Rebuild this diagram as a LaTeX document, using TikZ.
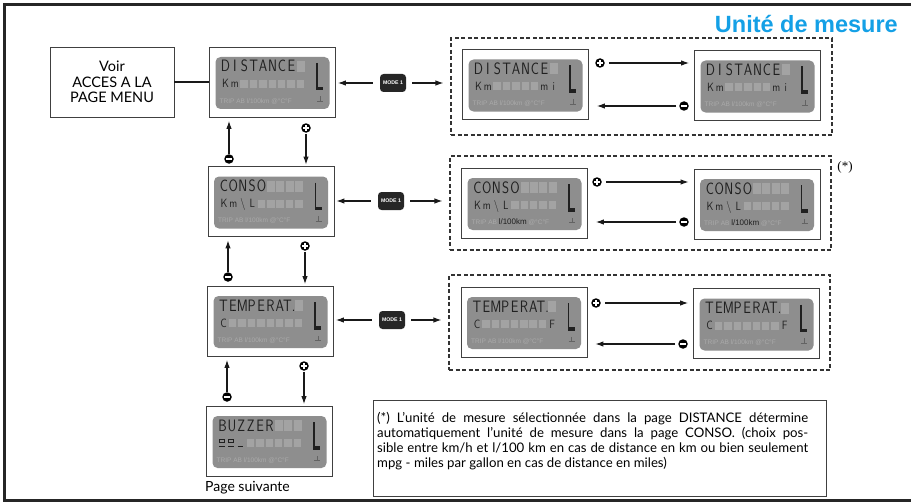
\documentclass[tikz,border=0pt]{standalone}
\usepackage{fontspec}
\setmainfont{Lato}
\newfontfamily\arialfont{Liberation Sans}
\newfontfamily\timesfont{Liberation Serif}
\usetikzlibrary{arrows.meta,calc}
\definecolor{lcdbg}{HTML}{8E8E8E}
\definecolor{lcdph}{HTML}{A3A3A3}
\definecolor{lcdfaint}{HTML}{AAAAAA}
\definecolor{lcdink}{HTML}{202020}
\definecolor{titleblue}{HTML}{14A0E6}
\newcommand\rtwo[2]{\node[lcdB] at ({-47+(#1-1)*9.4},6) {\scalebox{0.85}[1]{#2}};}
\newcommand\lcdscreen[6]{%
\begin{scope}[shift={(#1.center)}]
\fill[lcdbg, rounded corners=5pt] (-57,-25) rectangle (57,27);
\foreach \i in {#3}{\fill[lcdph] ({-51+(\i-1)*9.4},-21) rectangle ++(8,11);}
\foreach \c [count=\i] in {#2}{\node[lcdA] at ({-47+(\i-1)*9.4},-10) {\scalebox{0.82}[1]{\c}};}
\foreach \i in {#5}{\fill[lcdph] ({-51+(\i-1)*9.4},-2) rectangle ++(7.5,8);}
#4
\node[lcdC] at (-53,21) {#6};
\draw[lcdink, line width=1.3pt] (44.5,-19) -- (44.5,8.5);
\fill[lcdink] (44,5) rectangle (50.5,8.5);
\draw[lcdink!70, line width=0.7pt] (44.5,19.5) -- (50.5,19.5) (47.5,19.5) -- (47.5,14.5);
\end{scope}}
\newcommand\tripfaint{TRIP AB l/100km @°C°F}
\newcommand\tripdark{TRIP AB {\color{lcdink}\fontsize{8}{8}\selectfont l/100km} @°C°F}
\begin{document}
\begin{tikzpicture}[x=1pt,y=-1pt,
  lcdA/.style={anchor=base, inner sep=0, font=\fontsize{16.5}{16.5}\sffamily, text=lcdink},
  lcdB/.style={anchor=base, inner sep=0, font=\fontsize{12}{12}\sffamily, text=lcdink},
  lcdC/.style={anchor=base west, inner sep=0, font=\arialfont\fontsize{6.5}{6.5}\selectfont, text=lcdfaint},
  display/.style={draw=black!75, line width=0.8pt, minimum width=126pt, minimum height=70pt, inner sep=0, fill=white},
  plainbox/.style={draw=black!75, line width=0.8pt, inner sep=0},
  dbox/.style={draw=black!80, line width=1.1pt, dash pattern=on 4pt off 2.5pt, inner sep=0},
  arr/.style={-{Latex[length=8pt,width=5.5pt]}, line width=1.1pt, black!90},
  sign/.style={circle, fill=black, minimum size=9.5pt, inner sep=0},
  plus/.style={sign, path picture={\draw[white, line width=1.5pt] ($(path picture bounding box.center)+(-2.7,0)$) -- ++(5.4,0) ($(path picture bounding box.center)+(0,-2.7)$) -- ++(0,5.4);}},
  minus/.style={sign, path picture={\draw[white, line width=1.6pt] ($(path picture bounding box.center)+(-2.8,0)$) -- ++(5.6,0);}},
  mode/.style={fill=black!85, rounded corners=3.5pt, minimum width=26pt, minimum height=18pt, inner sep=0, text=white, font=\arialfont\bfseries\fontsize{5.2}{5.2}\selectfont}
]
\useasboundingbox (0,0) rectangle (911,503);
% frame
\draw[line width=3pt, black!85] (4.5,4.5) rectangle (920,500.5);
% title
\node[anchor=base east, inner sep=0, text=titleblue, font=\arialfont\bfseries\fontsize{23.5}{23.5}\selectfont] (title) at (898,33) {Unité de mesure};

% left column
\node[plainbox, minimum width=124pt, minimum height=70pt, align=center, font=\fontsize{14.5}{15.5}\selectfont] (voir) at (112,82) {Voir\\ACCES A LA\\PAGE MENU};
\node[display] (dist) at (272.5,82) {};
\node[display] (conso) at (271,201.5) {};
\node[display] (temp) at (270.5,321) {};
\node[display] (buzz) at (269.5,441) {};
\lcdscreen{dist}{D,I,S,T,A,N,C,E}{9}{\rtwo{1}{K}\rtwo{2}{m}}{3,...,9}{\tripfaint}
\lcdscreen{conso}{C,O,N,S,O}{6,...,9}{\rtwo{1}{K}\rtwo{2}{m}\rtwo{3}{\textbackslash}\rtwo{4}{L}}{5,...,9}{\tripfaint}
\lcdscreen{temp}{T,E,M,P,E,R,A,T.}{9}{\rtwo{1}{C}}{2,...,9}{\tripfaint}
\lcdscreen{buzz}{B,U,Z,Z,E,R}{7,8,9}{\draw[lcdink, line width=0.8pt] (-50,-2) rectangle ++(5,3.5) (-41,-2) rectangle ++(5,3.5) (-50.5,5.5) -- ++(6,0) (-41.5,5.5) -- ++(6,0) (-32,5.5) -- ++(5,0);}{4,...,9}{\tripfaint}
\node[anchor=west, inner sep=0, font=\fontsize{14}{14}\selectfont] (next) at (205,488) {Page suivante};

\draw[line width=1.1pt, black!90] (voir.east) -- (dist.west);

% mode badges
\node[mode] (m1) at (393,83) {MODE 1};
\node[mode] (m2) at (391,201) {MODE 1};
\node[mode] (m3) at (392,320) {MODE 1};

% dashed groups
\node[dbox, minimum width=381pt, minimum height=97pt] (db1) at (641.5,86.5) {};
\node[dbox, minimum width=381pt, minimum height=94pt] (db2) at (640.5,203) {};
\node[dbox, minimum width=381pt, minimum height=95pt] (db3) at (639.5,322.5) {};
\node[inner sep=0, font=\timesfont\fontsize{13}{13}\selectfont] (star) at (845,167) {(*)};

\node[display] (d1L) at (525.5,84.5) {};
\node[display] (d1R) at (757.5,85.5) {};
\node[display] (d2L) at (524.5,203) {};
\node[display] (d2R) at (757,204) {};
\node[display] (d3L) at (524,322) {};
\node[display] (d3R) at (756.5,323.5) {};
\lcdscreen{d1L}{D,I,S,T,A,N,C,E}{9}{\rtwo{1}{K}\rtwo{2}{m}\rtwo{8}{m}\rtwo{9}{i}}{3,...,7}{\tripfaint}
\lcdscreen{d1R}{D,I,S,T,A,N,C,E}{9}{\rtwo{1}{K}\rtwo{2}{m}\rtwo{8}{m}\rtwo{9}{i}}{3,...,7}{\tripfaint}
\lcdscreen{d2L}{C,O,N,S,O}{6,...,9}{\rtwo{1}{K}\rtwo{2}{m}\rtwo{3}{\textbackslash}\rtwo{4}{L}}{5,...,9}{\tripdark}
\lcdscreen{d2R}{C,O,N,S,O}{6,...,9}{\rtwo{1}{K}\rtwo{2}{m}\rtwo{3}{\textbackslash}\rtwo{4}{L}}{5,...,9}{\tripdark}
\lcdscreen{d3L}{T,E,M,P,E,R,A,T.}{9}{\rtwo{1}{C}\rtwo{9}{F}}{2,...,8}{\tripfaint}
\lcdscreen{d3R}{T,E,M,P,E,R,A,T.}{9}{\rtwo{1}{C}\rtwo{9}{F}}{2,...,8}{\tripfaint}

% mode arrows
\foreach \m/\a/\b in {m1/dist/db1, m2/conso/db2, m3/temp/db3}{
  \draw[arr, shorten <=7pt, shorten >=2pt] (\m.west) -- (\a.east |- \m);
  \draw[arr, shorten <=6pt, shorten >=7pt] (\m.east) -- (\b.west |- \m);
}

% plus / minus inside groups
\node[plus] (p1) at (600,63) {};
\node[minus] (n1) at (684,106) {};
\node[plus] (p2) at (597,182) {};
\node[minus] (n2) at (684,222) {};
\node[plus] (p3) at (596,303) {};
\node[minus] (n3) at (683,344) {};
\foreach \p/\n/\l/\r in {p1/n1/d1L/d1R, p2/n2/d2L/d2R, p3/n3/d3L/d3R}{
  \draw[arr, shorten <=4pt, shorten >=5pt] (\p.east) -- (\r.west |- \p);
  \draw[arr, shorten <=3pt, shorten >=8pt] (\n.west) -- (\l.east |- \n);
}

% vertical navigation
\node[minus] (n12) at (229,159) {};
\node[plus] (p12) at (306,128) {};
\node[minus] (n23) at (228,277) {};
\node[plus] (p23) at (305,246) {};
\node[minus] (n34) at (227,397) {};
\node[plus] (p34) at (304,366) {};
\foreach \n/\p/\u/\d in {n12/p12/dist/conso, n23/p23/conso/temp, n34/p34/temp/buzz}{
  \draw[arr, shorten >=3.5pt] (\n.north) -- (\n |- \u.south);
  \draw[arr, shorten <=1pt, shorten >=1.5pt] (\p.south) -- (\p |- \d.north);
}

% note
\node[plainbox, minimum width=453pt, minimum height=96pt, anchor=north west] (note) at (373,400) {};
\node[anchor=north west, inner sep=0, text width=431pt, align=justify, font=\fontsize{13.2}{15}\selectfont] (notetext) at (377,412) {(*) L’unité de mesure sélectionnée dans la page DISTANCE détermine\linebreak automatiquement l’unité de mesure dans la page CONSO. (choix pos-\linebreak sible entre km/h et l/100 km en cas de distance en km ou bien seulement\linebreak mpg - miles par gallon en cas de distance en miles)};
\end{tikzpicture}
\end{document}
